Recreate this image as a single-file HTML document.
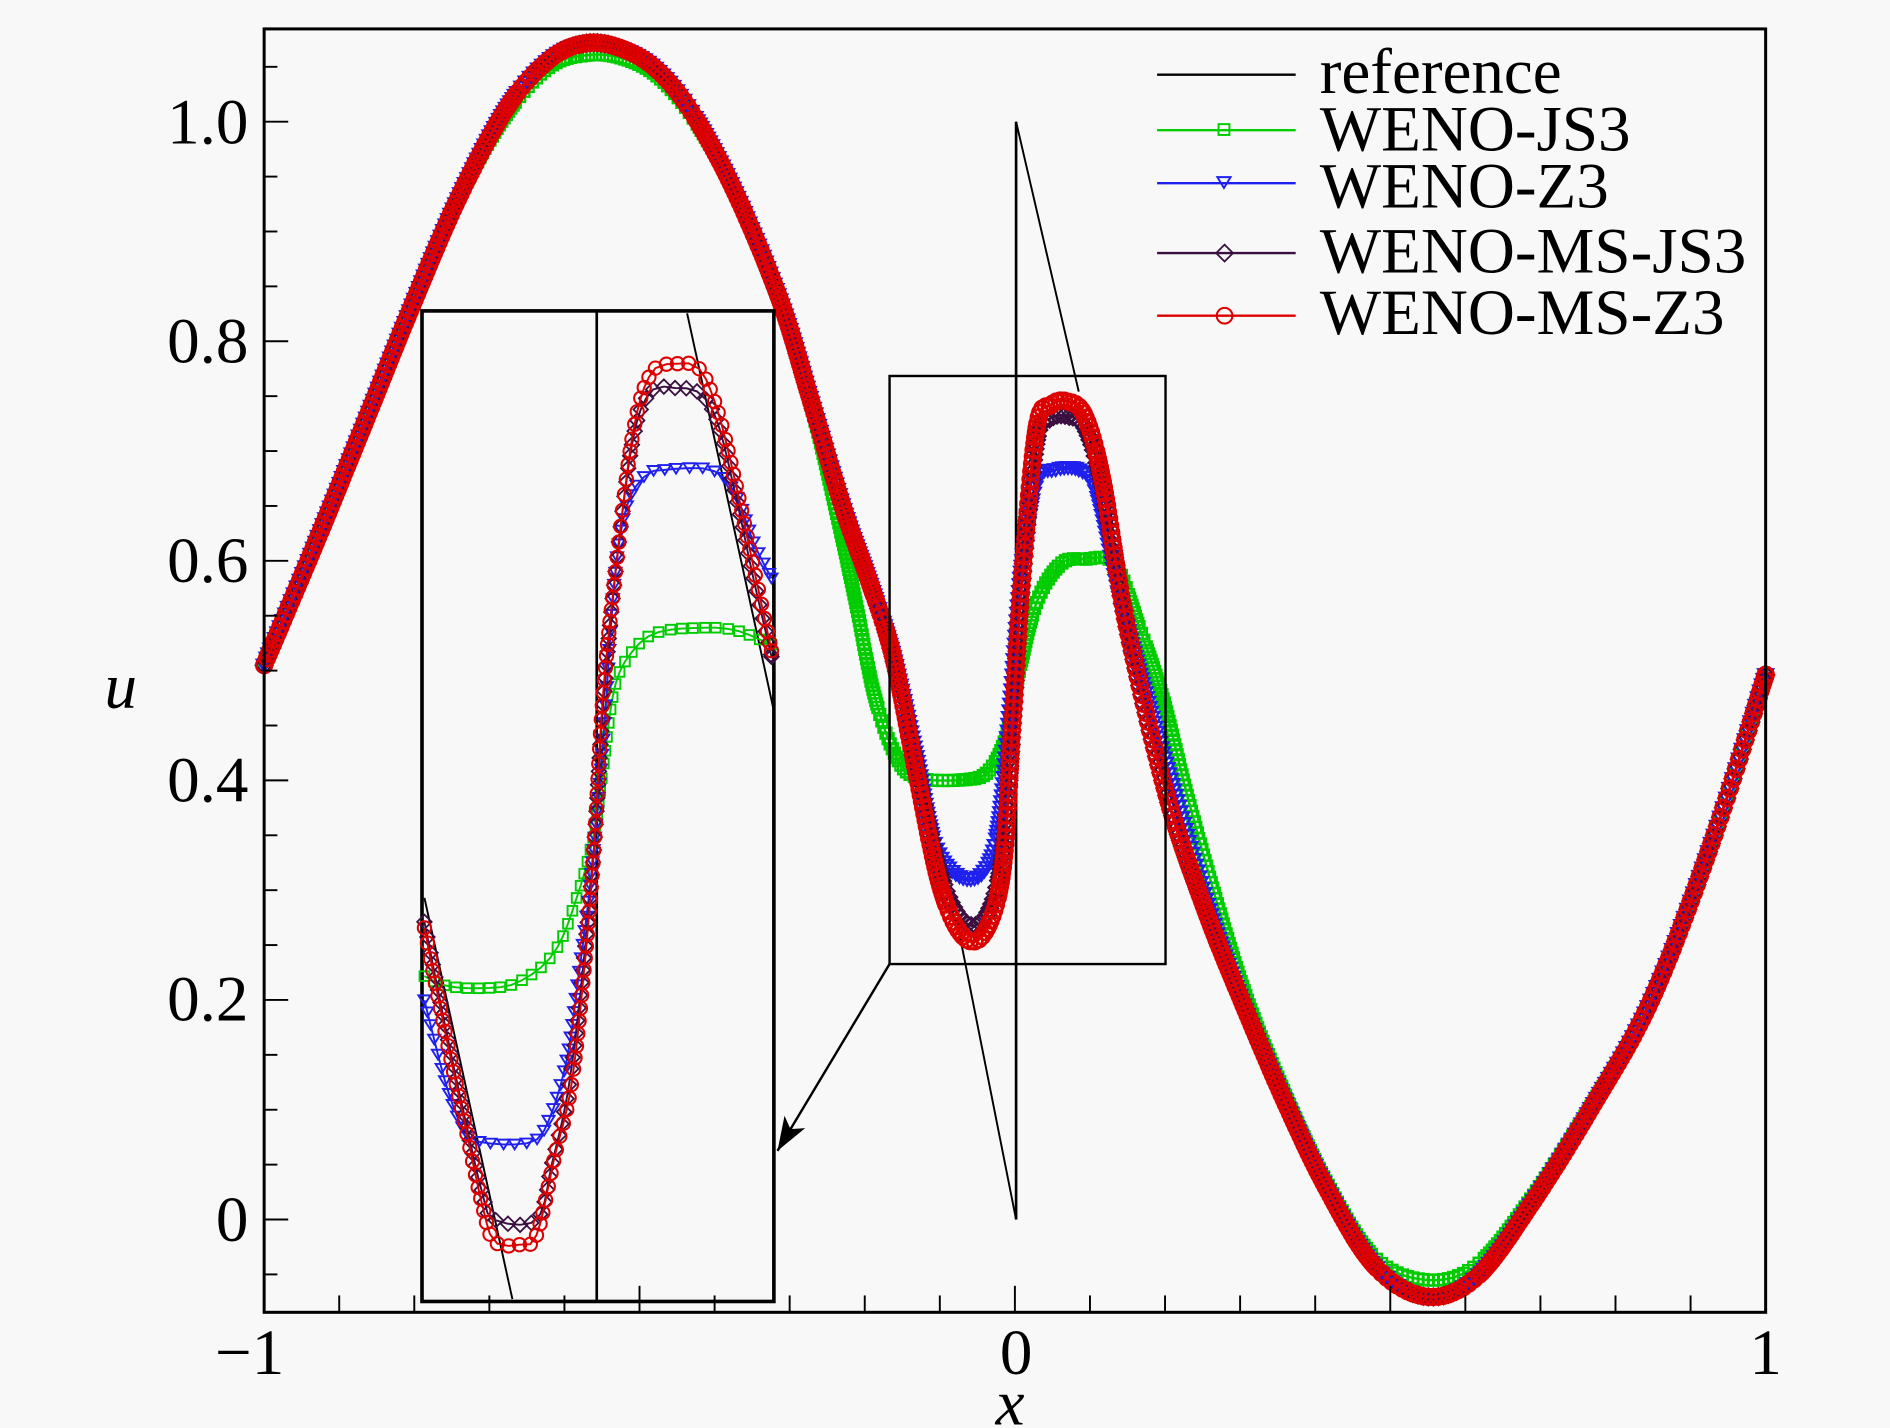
<!DOCTYPE html>
<html><head><meta charset="utf-8"><style>
html,body{margin:0;padding:0;background:#f8f8f8;}
svg{display:block}
text{font-family:"Liberation Serif",serif;fill:#000}
</style></head><body>
<svg id="s" width="1890" height="1428" viewBox="0 0 1568 1185" xmlns="http://www.w3.org/2000/svg">
<defs>
<marker id="mg" markerUnits="userSpaceOnUse" markerWidth="12" markerHeight="12" refX="6" refY="6" overflow="visible"><rect x="1.5" y="1.5" width="9" height="9" fill="none" stroke="#00cc00" stroke-width="2"/></marker>
<marker id="mb" markerUnits="userSpaceOnUse" markerWidth="12" markerHeight="12" refX="6" refY="6" overflow="visible"><path d="M0,1.5 L12,1.5 L6,11 Z" fill="none" stroke="#2020ee" stroke-width="2"/></marker>
<marker id="mp" markerUnits="userSpaceOnUse" markerWidth="12" markerHeight="12" refX="6" refY="6" overflow="visible"><path d="M6,-1 L13,6 L6,13 L-1,6 Z" fill="none" stroke="#3a1040" stroke-width="1.8"/></marker>
<marker id="mr" markerUnits="userSpaceOnUse" markerWidth="14" markerHeight="14" refX="7" refY="7" overflow="visible"><circle cx="7" cy="7" r="6.5" fill="none" stroke="#dd0000" stroke-width="2.2"/></marker>
<marker id="mg2" markerUnits="userSpaceOnUse" markerWidth="12" markerHeight="12" refX="6" refY="6" overflow="visible"><rect x="2" y="2" width="8" height="8" fill="none" stroke="#00cc00" stroke-width="1.6"/></marker>
<marker id="mb2" markerUnits="userSpaceOnUse" markerWidth="12" markerHeight="12" refX="6" refY="6" overflow="visible"><path d="M1,2 L11,2 L6,10 Z" fill="none" stroke="#2020ee" stroke-width="1.6"/></marker>
<marker id="mp2" markerUnits="userSpaceOnUse" markerWidth="12" markerHeight="12" refX="6" refY="6" overflow="visible"><path d="M6,0 L12,6 L6,12 L0,6 Z" fill="none" stroke="#3a1040" stroke-width="1.5"/></marker>
<marker id="mr2" markerUnits="userSpaceOnUse" markerWidth="14" markerHeight="14" refX="7" refY="7" overflow="visible"><circle cx="7" cy="7" r="5.5" fill="none" stroke="#dd0000" stroke-width="1.7"/></marker>
<marker id="ah" markerUnits="userSpaceOnUse" markerWidth="30" markerHeight="20" refX="28" refY="10" orient="auto" overflow="visible"><path d="M0,0 L28,10 L0,20 L7,10 Z" fill="#000"/></marker>
</defs>
<rect width="1568" height="1185" fill="#f8f8f8"/>
<g id="plot"></g>
<rect x="219" y="24" width="1246" height="1065" fill="none" stroke="#000" stroke-width="2.5"/>
<g id="ticks" stroke="#000" stroke-width="1.6"></g>
<g font-size="54">
<text x="206" y="119" text-anchor="end">1.0</text>
<text x="206" y="301" text-anchor="end">0.8</text>
<text x="206" y="483" text-anchor="end">0.6</text>
<text x="206" y="665" text-anchor="end">0.4</text>
<text x="206" y="847" text-anchor="end">0.2</text>
<text x="206" y="1030" text-anchor="end">0</text>
<text x="207" y="1140" text-anchor="middle">−1</text>
<text x="843" y="1140" text-anchor="middle">0</text>
<text x="1465" y="1140" text-anchor="middle">1</text>
<text x="838" y="1182" text-anchor="middle" font-style="italic">x</text>
<text x="100" y="587" text-anchor="middle" font-style="italic">u</text>
</g>
<g font-size="54">
<line x1="960" y1="62" x2="1075" y2="62" stroke="#000" stroke-width="2"/>
<text x="1095" y="77">reference</text>
<line x1="960" y1="108" x2="1075" y2="108" stroke="#00cc00" stroke-width="2"/>
<rect x="1011" y="103" width="9" height="9" fill="none" stroke="#00cc00" stroke-width="1.6"/>
<text x="1095" y="125">WENO-JS3</text>
<line x1="960" y1="152" x2="1075" y2="152" stroke="#2020ee" stroke-width="2"/>
<path d="M1010,147 L1021,147 L1015.5,156 Z" fill="none" stroke="#2020ee" stroke-width="1.6"/>
<text x="1095" y="172">WENO-Z3</text>
<line x1="960" y1="210" x2="1075" y2="210" stroke="#3a1040" stroke-width="2"/>
<path d="M1016,203 L1023,210 L1016,217 L1009,210 Z" fill="none" stroke="#3a1040" stroke-width="1.5"/>
<text x="1095" y="226">WENO-MS-JS3</text>
<line x1="960" y1="262" x2="1075" y2="262" stroke="#dd0000" stroke-width="2"/>
<circle cx="1016" cy="262" r="6.5" fill="none" stroke="#dd0000" stroke-width="1.7"/>
<text x="1095" y="277">WENO-MS-Z3</text>
</g>
</svg>
<script>
var NS="http://www.w3.org/2000/svg";
function cr(p){var o=[];for(var i=0;i<p.length-1;i++){var p0=p[Math.max(0,i-1)],p1=p[i],p2=p[i+1],p3=p[Math.min(p.length-1,i+2)];for(var k=0;k<20;k++){var t=k/20,t2=t*t,t3=t2*t;o.push([0.5*((2*p1[0])+(-p0[0]+p2[0])*t+(2*p0[0]-5*p1[0]+4*p2[0]-p3[0])*t2+(-p0[0]+3*p1[0]-3*p2[0]+p3[0])*t3),0.5*((2*p1[1])+(-p0[1]+p2[1])*t+(2*p0[1]-5*p1[1]+4*p2[1]-p3[1])*t2+(-p0[1]+3*p1[1]-3*p2[1]+p3[1])*t3)]);}}o.push(p[p.length-1]);return o;}
function rs(d,s){var o=[d[0]],acc=0;for(var i=1;i<d.length;i++){var dx=d[i][0]-d[i-1][0],dy=d[i][1]-d[i-1][1];acc+=Math.sqrt(dx*dx+dy*dy);if(acc>=s){o.push(d[i]);acc=0;}}o.push(d[d.length-1]);return o;}
var g=document.getElementById("plot");
function draw(p,col,mk,sp,w,parent){var d=rs(cr(p),sp);var e=document.createElementNS(NS,"polyline");e.setAttribute("points",d.map(function(q){return q[0].toFixed(1)+","+q[1].toFixed(1)}).join(" "));e.setAttribute("fill","none");e.setAttribute("stroke",col);e.setAttribute("stroke-width",w||1.6);if(mk){e.setAttribute("marker-mid","url(#"+mk+")");e.setAttribute("marker-start","url(#"+mk+")");e.setAttribute("marker-end","url(#"+mk+")");}(parent||g).appendChild(e);}
function line(x1,y1,x2,y2,w,extra){var e=document.createElementNS(NS,"line");e.setAttribute("x1",x1);e.setAttribute("y1",y1);e.setAttribute("x2",x2);e.setAttribute("y2",y2);e.setAttribute("stroke","#000");e.setAttribute("stroke-width",w);if(extra)e.setAttribute("marker-end",extra);g.appendChild(e);}
var L=[[219,552],[260,455],[300,357],[340,258],[380,165],[420,90],[455,50],[485,36],[515,40],[545,58],[575,95],[610,160],[647,249],[672,330],[700,423],[722,485],[741,545]];
var Rtail=[[935,520],[968,660],[1000,755],[1030,830],[1065,912],[1100,985],[1140,1050],[1183,1076],[1225,1060],[1270,1000],[1320,920],[1370,830],[1420,700],[1465,560]];
var red=L.concat([[760,640],[780,735],[800,778],[818,772],[832,720],[840,600],[848,480],[860,355],[872,336],[885,333],[900,345],[915,400]]).concat(Rtail);
var pur=L.concat([[760,635],[780,725],[800,765],[818,760],[832,710],[840,600],[848,480],[860,365],[872,347],[885,345],[900,355],[915,405]]).concat(Rtail);
var blu=L.concat([[760,628],[775,700],[795,727],[815,725],[828,690],[838,590],[848,470],[860,400],[875,390],[895,390],[910,410],[930,500],[950,575],[975,660],[1003,755]]).concat(Rtail.slice(3));
var grn=[[219,552],[260,455],[300,357],[340,258],[380,165],[420,95],[455,56],[485,46],[515,48],[545,63],[575,98],[610,160],[647,249],[675,345],[695,430],[710,500],[725,575],[742,625],[760,645],[800,647],[820,640],[835,610],[845,560],[860,500],[880,468],[900,464],[925,468],[945,520],[965,580],[985,660],[1010,750],[1035,830],[1065,905],[1100,980],[1140,1043],[1183,1062],[1225,1050],[1270,995],[1320,918],[1370,830],[1420,700],[1465,560]];
draw(red,"#000",null,3,1.6);
line(843,101,843,1012,2.2);
line(843,101,895,325,1.6);
line(843,1012,795,770,1.6);
draw(grn,"#00cc00","mg",3,2);
draw(blu,"#2020ee","mb",3,2);
draw(pur,"#3a1040","mp",3,2);
draw(red,"#dd0000","mr",3,2.5);
var r=document.createElementNS(NS,"rect");r.setAttribute("x",738);r.setAttribute("y",312);r.setAttribute("width",229);r.setAttribute("height",488);r.setAttribute("fill","none");r.setAttribute("stroke","#000");r.setAttribute("stroke-width",2);g.appendChild(r);
line(738,800,645,955,2,"url(#ah)");
var ig=document.createElementNS(NS,"g");g.appendChild(ig);
var bg=document.createElementNS(NS,"rect");bg.setAttribute("x",350);bg.setAttribute("y",258);bg.setAttribute("width",292);bg.setAttribute("height",822);bg.setAttribute("fill","#f8f8f8");bg.setAttribute("stroke","#000");bg.setAttribute("stroke-width",3);ig.appendChild(bg);
function iline(x1,y1,x2,y2,w){var e=document.createElementNS(NS,"line");e.setAttribute("x1",x1);e.setAttribute("y1",y1);e.setAttribute("x2",x2);e.setAttribute("y2",y2);e.setAttribute("stroke","#000");e.setAttribute("stroke-width",w);ig.appendChild(e);}
iline(352,745,425,1078,1.6);iline(570,260,642,590,1.6);iline(495,258,495,1080,2.2);
draw([[352,810],[370,818],[400,820],[430,815],[460,790],[480,740],[493,690],[500,640],[510,570],[525,540],[545,525],[580,521],[610,523],[640,535]],"#00cc00","mg2",9,1.6,ig);
draw([[352,830],[370,900],[385,938],[400,948],[440,948],[455,930],[470,880],[480,810],[490,730],[500,620],[510,480],[520,420],[535,395],[550,390],[590,390],[610,410],[625,450],[640,480]],"#2020ee","mb2",9,1.6,ig);
draw([[352,765],[370,855],[385,925],[400,990],[410,1012],[445,1012],[458,965],[472,900],[484,800],[493,700],[500,590],[510,480],[525,365],[540,325],[560,322],[580,326],[595,350],[610,410],[625,480],[640,545]],"#3a1040","mp2",9,1.6,ig);
draw([[352,770],[370,860],[385,930],[400,1000],[410,1030],[430,1033],[445,1025],[460,960],[474,900],[485,800],[493,700],[500,580],[510,480],[525,360],[540,310],[560,302],[580,306],[595,340],[610,400],[625,470],[640,540]],"#dd0000","mr2",9,1.6,ig);
var t=document.getElementById("ticks");
function tk(x1,y1,x2,y2){var e=document.createElementNS(NS,"line");e.setAttribute("x1",x1);e.setAttribute("y1",y1);e.setAttribute("x2",x2);e.setAttribute("y2",y2);t.appendChild(e);}
for(var i=-1;i<=21;i++){var v=i*0.05;var y=1012-911*v;if(y<26||y>1087)continue;var maj=(i%4==0);tk(219,y,219+(maj?20:11),y);}
for(var i=0;i<=20;i++){var x=219+i*62.3;var maj=(i==0||i==10||i==20||i==5||i==15);tk(x,1089,x,1089-(maj?22:14));}
</script>
</body></html>
